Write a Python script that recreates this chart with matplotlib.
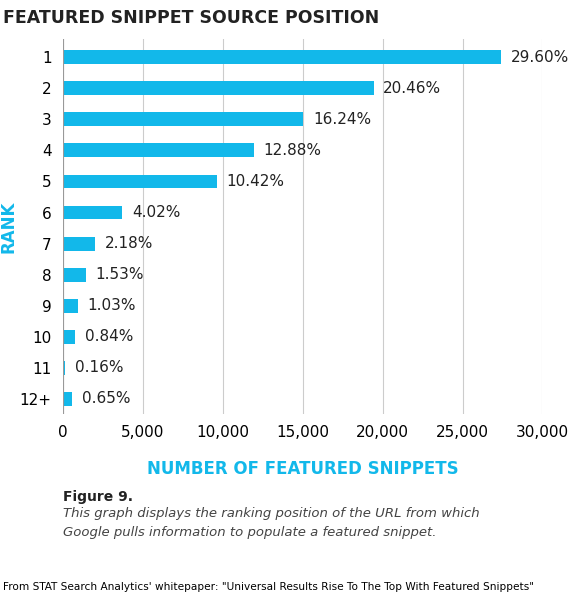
import matplotlib
matplotlib.use("Agg")
import matplotlib.pyplot as plt

ranks = ["1","2","3","4","5","6","7","8","9","10","11","12+"]
pct = [29.60,20.46,16.24,12.88,10.42,4.02,2.18,1.53,1.03,0.84,0.16,0.65]
counts = [27430,19450,15050,11950,9650,3730,2020,1420,955,780,150,600]
ticks = [0,5000,10000,15000,20000,25000,30000]

C = "#12b8ea"
fig = plt.figure(figsize=(5.71,5.96), dpi=100)
ax = fig.add_axes([0.11,0.305,0.84,0.63])
y = list(range(len(ranks)))
ax.barh(y, counts, height=0.45, color=C, zorder=3)
for yi, c, p in zip(y, counts, pct):
    ax.text(c+600, yi, f"{p:.2f}%", va="center", ha="left", fontsize=11, color="#222")
ax.set_yticks(y); ax.set_yticklabels(ranks, fontsize=11)
ax.set_ylim(len(ranks)-0.5, -0.6)
ax.set_xlim(0, 30000)
ax.set_xticks(ticks); ax.set_xticklabels([f"{t:,}" for t in ticks], fontsize=11)
ax.grid(axis="x", color="#ccc", lw=0.8, zorder=0)
for s in ax.spines.values(): s.set_visible(False)
ax.axvline(0, color="#999", lw=0.8, zorder=4)
ax.tick_params(length=0, pad=8)
ax.set_ylabel("RANK", color=C, fontsize=12, fontweight="bold")
ax.yaxis.set_label_coords(-0.095, 0.5)
ax.set_xlabel("NUMBER OF FEATURED SNIPPETS", color=C, fontsize=12, fontweight="bold", labelpad=14)
fig.text(0.005, 0.985, "FEATURED SNIPPET SOURCE POSITION", fontsize=12.5, fontweight="bold", color="#222", va="top")
fig.text(0.11, 0.16, "Figure 9.", fontsize=10, fontweight="bold", color="#222")
fig.text(0.11, 0.1, "This graph displays the ranking position of the URL from which\nGoogle pulls information to populate a featured snippet.",
         fontsize=9.5, style="italic", color="#444", linespacing=1.6)
fig.text(0.005, 0.01, "From STAT Search Analytics' whitepaper: \"Universal Results Rise To The Top With Featured Snippets\"",
         fontsize=7.6, color="#000")
fig.savefig("out.png", dpi=100)
